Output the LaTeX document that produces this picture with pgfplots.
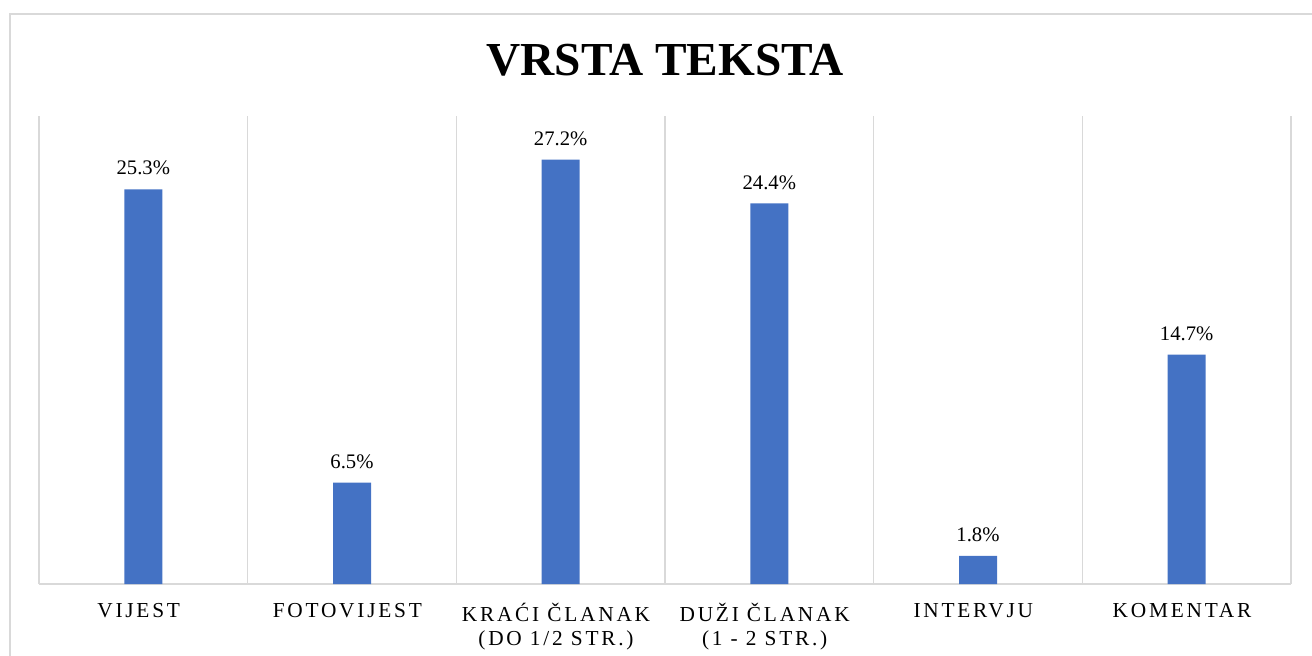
\documentclass[border=0pt]{standalone}
\usepackage{pgfplots}
\pgfplotsset{compat=1.18}
\usepackage{fontspec}
\setmainfont{Liberation Serif}
\newfontfamily\spaced[LetterSpace=13]{Liberation Serif}
\definecolor{barblue}{HTML}{4472C4}
\definecolor{gridgray}{HTML}{D9D9D9}
\begin{document}
\begin{tikzpicture}
\useasboundingbox (0pt,0pt) rectangle (984pt,492pt);
\draw[gridgray,line width=1.2pt] (7.5pt,-20pt) -- (7.5pt,481.5pt) -- (1000pt,481.5pt);
\node[font=\bfseries\fontsize{35.5}{40}\selectfont] at (498.75pt,447pt) {VRSTA TEKSTA};
\begin{axis}[
  at={(29.25pt,54pt)}, anchor=south west,
  scale only axis, width=939pt, height=351pt,
  xmin=-0.5, xmax=5.5, ymin=0, ymax=30,
  axis y line=none,
  axis x line*=bottom,
  x axis line style={gridgray,line width=1pt,-},
  xtick={0,1,2,3,4,5},
  xticklabels={VIJEST,FOTOVIJEST,{KRAĆI ČLANAK\\(DO 1/2 STR.)},{DUŽI ČLANAK\\(1 - 2 STR.)},INTERVJU,KOMENTAR},
  xticklabel style={font=\spaced\fontsize{16}{17.5}\selectfont,align=center,anchor=north,yshift=-11pt,xshift=-3.5pt},
  major tick length=0pt,
  minor xtick={-0.5,0.5,1.5,2.5,3.5,4.5,5.5},
  xminorgrids,
  minor grid style={gridgray,line width=1pt},
  minor tick length=0pt,
  ybar, bar width=28.5pt,
  bar shift=0pt,
  /pgf/number format/assume math mode=true,
  nodes near coords={\pgfmathprintnumber[fixed,precision=1,fixed zerofill,assume math mode=true]{\pgfplotspointmeta}\%},
  nodes near coords style={font=\fontsize{15.5}{17}\selectfont,text=black,yshift=7pt},
  clip=false,
]
\addplot[fill=barblue,draw=none] coordinates {(0,25.3) (1,6.5) (2,27.2) (3,24.4) (4,1.8) (5,14.7)};
\end{axis}
\end{tikzpicture}
\end{document}
